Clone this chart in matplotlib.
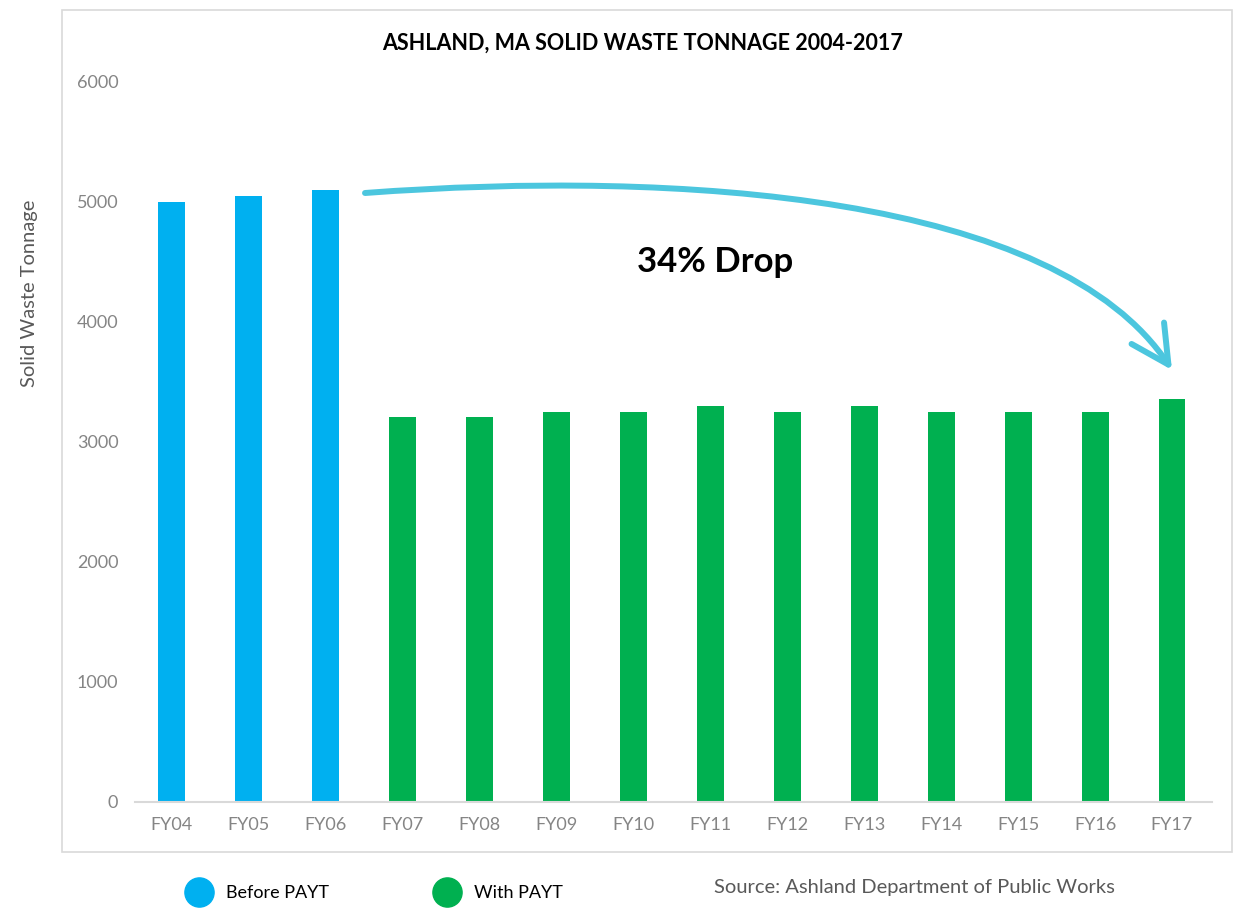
import matplotlib
matplotlib.use("Agg")
import matplotlib.pyplot as plt
from matplotlib.path import Path
from matplotlib.patches import FancyArrowPatch, Rectangle
from matplotlib.lines import Line2D

# ---- data ----
years = ["FY04", "FY05", "FY06", "FY07", "FY08", "FY09", "FY10",
         "FY11", "FY12", "FY13", "FY14", "FY15", "FY16", "FY17"]
before_years = ["FY04", "FY05", "FY06"]
before_values = [5000, 5050, 5100]
with_years = ["FY07", "FY08", "FY09", "FY10", "FY11", "FY12", "FY13",
              "FY14", "FY15", "FY16", "FY17"]
with_values = [3210, 3210, 3250, 3250, 3300, 3250, 3300, 3250, 3250, 3250, 3360]
y_ticks = [0, 1000, 2000, 3000, 4000, 5000, 6000]

title = "ASHLAND, MA SOLID WASTE TONNAGE 2004-2017"
ylabel = "Solid Waste Tonnage"
annotation = "34% Drop"
source = "Source: Ashland Department of Public Works"
legend_labels = ["Before PAYT", "With PAYT"]

BLUE = "#00B0F0"
GREEN = "#00B050"
ARROW = "#4CC6DE"
GRAY = "#858585"

W, H = 1238, 909
fig = plt.figure(figsize=(W / 100, H / 100), dpi=100)
fig.patch.set_facecolor("white")

# outer frame
fig.patches.append(Rectangle((62 / W, 1 - 852 / H), (1232 - 62) / W, (852 - 10) / H,
                             transform=fig.transFigure, fill=False,
                             edgecolor="#D9D9D9", linewidth=1.2))

ax = fig.add_axes([135 / W, 1 - 802 / H, (1212 - 135) / W, (802 - 82) / H])

xpos = {y: i for i, y in enumerate(years)}
bw = 0.35
ax.bar([xpos[y] for y in before_years], before_values, width=bw, color=BLUE, zorder=2)
ax.bar([xpos[y] for y in with_years], with_values, width=bw, color=GREEN, zorder=2)

ax.set_xlim(-0.48, len(years) - 1 + 0.52)
ax.set_ylim(0, 6000)
ax.set_yticks(y_ticks)
ax.set_yticklabels([str(v) for v in y_ticks])
ax.set_xticks(range(len(years)))
ax.set_xticklabels(years)
for s in ["top", "right", "left"]:
    ax.spines[s].set_visible(False)
ax.spines["bottom"].set_color("#D9D9D9")
ax.spines["bottom"].set_linewidth(1.5)
ax.tick_params(axis="both", length=0, colors=GRAY, labelsize=13)
ax.tick_params(axis="y", pad=12)
ax.tick_params(axis="x", pad=11)
for lab in ax.get_xticklabels() + ax.get_yticklabels():
    lab.set_fontfamily(["Lato", "DejaVu Sans"])

fig.text(643 / W, 1 - 43 / H, title, ha="center", va="center",
         fontsize=15.5, fontweight="bold", family=["Lato", "DejaVu Sans"])
fig.text(30 / W, 1 - 293 / H, ylabel, rotation=90, ha="center", va="center",
         fontsize=14.5, color="#595959", family=["Lato", "DejaVu Sans"])

# curved arrow from FY06 top to FY17 top
i06 = xpos["FY06"]; i17 = xpos["FY17"]
v06 = before_values[-1]; v17 = with_values[-1]
p0 = (i06 + 0.51, v06 - 25)
p1 = (i06 + 4.6, v06 + 170)
p2 = (i17 - 1.5, v06 - 40)
p3 = (i17, v17 + 240)
path = Path([p0, p1, p2, p3], [Path.MOVETO, Path.CURVE4, Path.CURVE4, Path.CURVE4])
arr = FancyArrowPatch(path=path, arrowstyle="->,head_length=27,head_width=14",
                      mutation_scale=1, color=ARROW, linewidth=4.3,
                      capstyle="round", joinstyle="round", zorder=3)
ax.add_patch(arr)

ax.text(715 / W, 1 - 262 / H, annotation, transform=fig.transFigure, ha="center",
        va="center", fontsize=25, fontweight="bold", family=["Lato", "DejaVu Sans"])

# legend
handles = [Line2D([], [], marker="o", linestyle="", markersize=21, color=BLUE),
           Line2D([], [], marker="o", linestyle="", markersize=21, color=GREEN)]
leg = fig.legend(handles, legend_labels, loc="center", bbox_to_anchor=(372 / W, 1 - 893 / H),
                 ncol=2, frameon=False, handletextpad=0.5, columnspacing=5.5,
                 prop={"family": ["Lato", "DejaVu Sans"], "size": 13})

fig.text(914 / W, 1 - 888 / H, source, ha="center", va="center", fontsize=14.5,
         color="#595959", family=["Lato", "DejaVu Sans"])

fig.savefig("out.png", dpi=100)
